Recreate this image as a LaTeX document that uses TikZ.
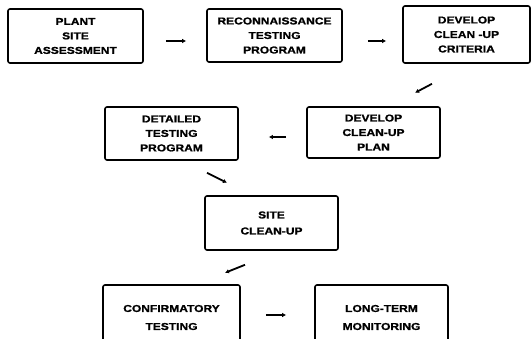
\documentclass[tikz,border=0pt]{standalone}
\usepackage{fontspec}
\newfontfamily\boxfont{Liberation Sans}[FakeStretch=1.2,FakeBold=1.2]
\usetikzlibrary{arrows.meta,calc}
\begin{document}
\begin{tikzpicture}[x=1pt,y=-1pt,
  stepbox/.style={draw,line width=1.6pt,rounded corners=2pt,align=center,
    inner sep=0pt,font=\boxfont\bfseries\fontsize{10}{14.5}\selectfont},
  arr/.style={line width=1.8pt,-{Latex[length=4pt,width=4.5pt]}}]
\clip (0,0) rectangle (532,339);
\fill[white] (0,0) rectangle (532,339);
\node[stepbox,minimum width=135pt,minimum height=54pt] (n1) at (75.5,36) {PLANT\\SITE\\ASSESSMENT};
\node[stepbox,minimum width=135pt,minimum height=53pt] (n2) at (274.5,35.5) {RECONNAISSANCE\\TESTING\\PROGRAM};
\node[stepbox,minimum width=127pt,minimum height=57pt] (n3) at (466.5,34.5) {DEVELOP\\CLEAN -UP\\CRITERIA};
\node[stepbox,minimum width=133pt,minimum height=53pt] (n4) at (171.5,133.5) {DETAILED\\TESTING\\PROGRAM};
\node[stepbox,minimum width=133pt,minimum height=51pt] (n5) at (373.5,132.5) {DEVELOP\\CLEAN-UP\\PLAN};
\node[stepbox,minimum width=133pt,minimum height=54pt,font=\boxfont\bfseries\fontsize{10}{16}\selectfont] (n6) at (271.5,223) {SITE\\CLEAN-UP};
\node[stepbox,minimum width=137pt,minimum height=65pt,font=\boxfont\bfseries\fontsize{10}{18}\selectfont] (n7) at (171.5,317.5) {CONFIRMATORY\\TESTING};
\node[stepbox,minimum width=133pt,minimum height=65pt,font=\boxfont\bfseries\fontsize{10}{18}\selectfont] (n8) at (381.5,317.5) {LONG-TERM\\MONITORING};
\draw[arr] ($(n1.east)+(22,5)$) -- ($(n2.west)+(-20,5.5)$);
\draw[arr] ($(n2.east)+(25,5.5)$) -- ($(n3.west)+(-16,6.5)$);
\draw[arr] ($(n3.south)+(-34.5,20)$) -- ($(n3.south)+(-51.5,29)$);
\draw[arr] ($(n5.west)+(-20,4.5)$) -- ($(n4.east)+(30,3.5)$);
\draw[arr] ($(n4.south)+(35.5,12)$) -- ($(n4.south)+(55.5,22)$);
\draw[arr] ($(n6.south)+(-26.5,14)$) -- ($(n6.south)+(-46.5,22)$);
\draw[arr] ($(n7.east)+(25,-2.5)$) -- ($(n8.west)+(-28,-2.5)$);
\end{tikzpicture}
\end{document}
